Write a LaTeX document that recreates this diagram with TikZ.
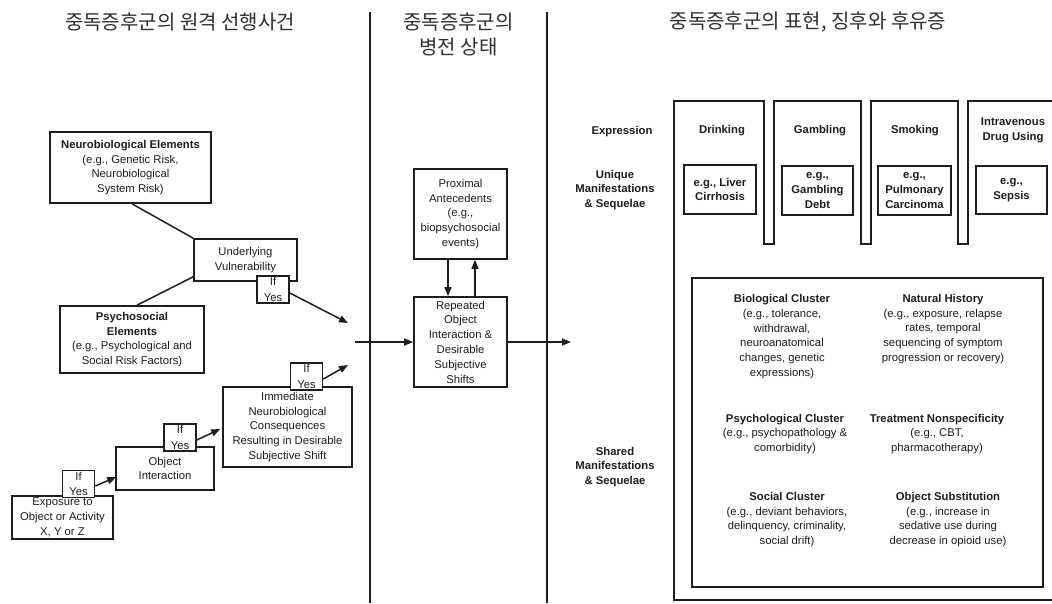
\documentclass[tikz,border=0pt]{standalone}
\usepackage{fontspec}
\setmainfont{Liberation Sans}
\newfontfamily\krfont{Noto Sans CJK KR}
\usetikzlibrary{arrows.meta,calc}
\definecolor{ink}{HTML}{1E1E1E}
\definecolor{titlegray}{HTML}{303030}
\newcommand\bodyfont{\fontsize{11.3}{14.8}\selectfont}
\newcommand\titlefont{\krfont\fontsize{20}{25}\selectfont}

\begin{document}
\begin{tikzpicture}[x=1pt,y=-1pt,
  box/.style={draw=ink, line width=1.6pt, align=center, inner sep=0pt, font=\bodyfont, text=ink},
  ifbox/.style={box, fill=white, minimum width=32, minimum height=27},
  label/.style={align=center, inner sep=0pt, font=\bodyfont, text=ink},
  boldlabel/.style={label, font=\bodyfont\bfseries},
  heading/.style={align=center, inner sep=0pt, font=\titlefont, text=titlegray},
  arr/.style={draw=ink, line width=1.5pt, -{Triangle[length=9pt,width=7pt]}},
  link/.style={draw=ink, line width=1.5pt}]

\useasboundingbox (0,0) rectangle (1052,603);
\fill[white] (0,0) rectangle (1052,603);
\clip (0,0) rectangle (1052,603);

% --- section headings and dividers ---
\node[heading] (t1) at (180,22) {중독증후군의 원격 선행사건};
\node[heading] (t2) at (458.5,34.5) {중독증후군의\\병전 상태};
\node[heading] (t3) at (808,22) {중독증후군의 표현, 징후와 후유증};

\draw[ink, line width=1.5pt] (370,12) -- (370,603);
\draw[ink, line width=1.5pt] (547,12) -- (547,603);

% --- distal antecedents ---
\node[box, minimum width=161, minimum height=71] (neuro) at (130.5,167.5)
  {\textbf{Neurobiological Elements}\\(e.g., Genetic Risk,\\Neurobiological\\System Risk)};
\node[box, minimum width=103, minimum height=42] (vuln) at (245.5,260)
  {Underlying\\Vulnerability};
\node[box, minimum width=144, minimum height=67] (psych) at (132,339.5)
  {\textbf{Psychosocial}\\\textbf{Elements}\\(e.g., Psychological and\\Social Risk Factors)};
\node[box, minimum width=129, minimum height=80] (imm) at (287.5,427)
  {Immediate\\Neurobiological\\Consequences\\Resulting in Desirable\\Subjective Shift};
\node[box, minimum width=98, minimum height=43] (objint) at (165,468.5)
  {Object\\Interaction};
\node[box, minimum width=101, minimum height=43] (expo) at (62.5,517.5)
  {Exposure to\\Object or Activity\\X, Y or Z};

\node[ifbox] (ify1) at (273,289.5) {If\\[0.5pt]Yes};
\node[ifbox] (ify2) at (78.5,484) {If\\[0.5pt]Yes};
\node[ifbox] (ify3) at (180,437.5) {If\\[0.5pt]Yes};
\node[ifbox] (ify4) at (306.5,376.5) {If\\[0.5pt]Yes};

\coordinate (vulnend) at (348,323);
\coordinate (immend) at (348,365);

\draw[link] ($(neuro.south)+(1.5,0)$) -- (vuln.north west);
\draw[link] ($(psych.north)+(5,0)$) -- ($(vuln.south west)+(0,-5)$);
\draw[arr] ($(ify1.east)+(0,3.5)$) -- (vulnend);
\draw[arr] ($(ify2.east)+(0,2)$) -- ($(objint.west)+(1,8.5)$);
\draw[arr] ($(ify3.east)+(0,2.5)$) -- ($(imm.west)+(-2,2)$);
\draw[arr] ($(ify4.east)+(0,2.5)$) -- (immend);

% --- proximal antecedents ---
\node[box, minimum width=93, minimum height=90] (prox) at (460.5,214)
  {Proximal\\Antecedents\\(e.g.,\\biopsychosocial\\events)};
\node[box, minimum width=93, minimum height=90] (rep) at (460.5,342)
  {Repeated\\Object\\Interaction \&\\Desirable\\Subjective\\Shifts};

\coordinate (instart) at (355,342);
\coordinate (outend) at (571,342);
\draw[arr] (instart) -- (rep.west);
\draw[arr] (rep.east) -- (outend);
\draw[arr] (prox.south -| 448,0) -- (rep.north -| 448,0);
\draw[arr] (rep.north -| 475,0) -- (prox.south -| 475,0);

% --- expression, manifestations and sequelae ---
\draw[ink, line width=1.6pt]
  (674,600) -- (674,101) -- (764,101) -- (764,244) -- (774,244) -- (774,101)
  -- (861,101) -- (861,244) -- (871,244) -- (871,101)
  -- (958,101) -- (958,244) -- (968,244) -- (968,101)
  -- (1062,101) -- (1062,600) -- cycle;

\node[boldlabel] (expr) at (622,132) {Expression};
\node[boldlabel] (uniq) at (615,190) {Unique\\Manifestations\\\& Sequelae};
\node[boldlabel] (shared) at (615,467) {Shared\\Manifestations\\\& Sequelae};

\node[boldlabel] (drink) at (722,131) {Drinking};
\node[boldlabel] (gamb) at (820,131) {Gambling};
\node[boldlabel] (smok) at (915,131) {Smoking};
\node[boldlabel] (ivdu) at (1013,130.5) {Intravenous\\Drug Using};

\node[box, font=\bodyfont\bfseries, minimum width=72, minimum height=49] (u1) at (720,189.5)
  {e.g., Liver\\Cirrhosis};
\node[box, font=\bodyfont\bfseries, minimum width=71, minimum height=49] (u2) at (817.5,190.5)
  {e.g.,\\Gambling\\Debt};
\node[box, font=\bodyfont\bfseries, minimum width=73, minimum height=49] (u3) at (914.5,190.5)
  {e.g.,\\Pulmonary\\Carcinoma};
\node[box, font=\bodyfont\bfseries, minimum width=71, minimum height=48] (u4) at (1011.5,190)
  {e.g.,\\Sepsis};

\node[box, minimum width=351, minimum height=309] (sharedbox) at (867.5,432.5) {};

\node[label] (bio) at (782,336.5)
  {\textbf{Biological Cluster}\\(e.g., tolerance,\\withdrawal,\\neuroanatomical\\changes, genetic\\expressions)};
\node[label] (nat) at (943,329)
  {\textbf{Natural History}\\(e.g., exposure, relapse\\rates, temporal\\sequencing of symptom\\progression or recovery)};
\node[label] (psyc) at (785,434)
  {\textbf{Psychological Cluster}\\(e.g., psychopathology \&\\comorbidity)};
\node[label] (treat) at (937,434)
  {\textbf{Treatment Nonspecificity}\\(e.g., CBT,\\pharmacotherapy)};
\node[label] (soc) at (787,519.5)
  {\textbf{Social Cluster}\\(e.g., deviant behaviors,\\delinquency, criminality,\\social drift)};
\node[label] (subst) at (948,519.5)
  {\textbf{Object Substitution}\\(e.g., increase in\\sedative use during\\decrease in opioid use)};

\end{tikzpicture}
\end{document}
